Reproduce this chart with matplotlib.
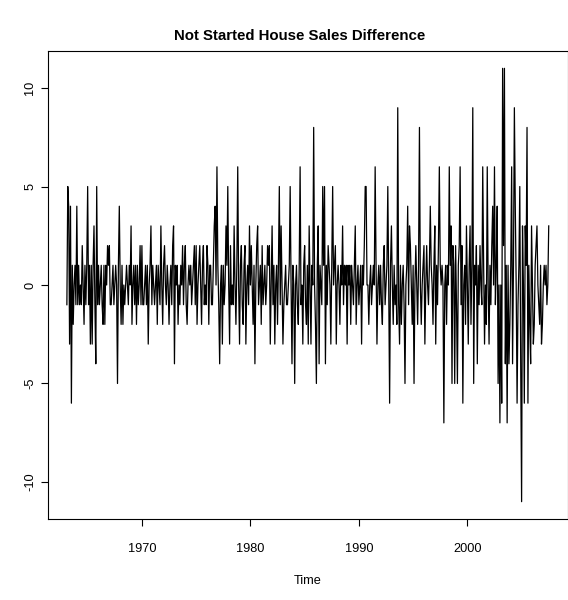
import numpy as np
import matplotlib
matplotlib.use("Agg")
import matplotlib.pyplot as plt

# monthly differences, starting Feb 1963
start_year = 1963
start_month = 2
diff_values = [
    -1, 5, 4, -3, 4, -6, 1, -2, 0, 1, -1, 4,
    -1, 1, -1, 0, -1, 2, 0, -2, 1, -1, 1, 5,
    -1, 1, -3, 1, -3, 1, 3, -1, -4, 5, -1,
    1, -1, 0, 1, -1, -2, 1, -2, 1, 0, 2, 1,
    2, -1, -1, 0, 1, -1, 0, 1, 0, -5, 1, 4,
    0, -2, 1, -2, 0, -1, 0, 1, 0, -1, 1, 0,
    3, -2, 0, 1, -1, 1, -2, 1, -1, 0, 2, -1,
    2, -1, -1, 0, 1, -1, 1, -3, 0, 1, 3,
    -1, 1, 0, -1, 0, 1, -2, 1, 0, -1, 3, 0,
    -2, 1, 2, 0, -1, 1, 0, -2, 0, 1, -1, 2,
    3, -4, 1, 0, 1, -2, 0, -1, 1, 0, 2, -1,
    1, 2, -1, -2, 0, 1, 0, 1, -1, 0, 1, 2,
    -1, 2, -2, 0, 1, 2, 0, -2, 1, 2, -1, 0,
    -1, 2, 1, -2, 1, 1, -1, -1, 1, 3, 4,
    0, 6, 1, -1, -4, 0, 1, -3, 1, -1, 0, 3,
    1, 5, 0, -3, 2, -1, 0, -1, 3, 0, -2, 1,
    6, 0, -3, 1, 2, -1, -2, 1, 2, -3, 0, 1,
    -1, 3, 0, 2, 0, -2, 1, -4, 0, 2, 3, -1,
    0, 1, -2, 2, -1, 0, 1, -1, 0, 2, 1,
    2, -3, 0, 3, -1, 1, -3, 0, 1, -2, 1, 5,
    -1, 3, 0, -3, -1, 0, 1, -1, -1, 0, 1, 5,
    0, -4, 1, 0, -5, 0, 1, -1, -2, 1, 6, -1,
    0, -3, 1, 2, -1, -2, 1, -3, 3, 0, -3, 1,
    0, 8, 0, -2, -5, 1, 3, -4, 1, 0, -1, 5,
    1, 5, -4, 1, -1, 2, 1, 0, -3, 1, 5,
    0, 1, 2, -3, 0, 1, 0, -2, 1, 0, 3, -1,
    1, 0, 1, -3, 1, 0, 1, -2, 1, 0, -1, 1,
    3, -2, 0, 1, -1, 0, 1, -3, 1, 0, 2, 5,
    5, 0, 0, -2, 0, 1, -1, 0, 1, 0, 6, 1,
    -3, 0, 1, -1, 1, -1, -2, 1, 2, -1, 0,
    1, 5, 0, -6, 1, 3, 0, -2, 1, -1, 0, -2,
    9, -1, -3, 1, -2, 0, 1, -1, -5, 0, 1, 4,
    -1, 3, 2, 0, -2, 1, -5, 0, 2, 0, -2, 1,
    8, 0, -2, 0, 1, 2, -3, 0, 2, 0, -1, 1,
    4, 1, 0, -2, 1, 3, -3, 1, -1, 2, 6,
    1, 0, 1, 0, -7, 0, 1, -2, 1, 0, 6, 1,
    3, -5, 2, 1, -5, 2, -1, -5, 1, 2, 6, -1,
    2, -6, 0, 1, -2, 3, 0, -3, 1, 3, -2, 1,
    9, -5, 1, 0, 2, -4, 1, -1, 2, 0, -1,
    6, 1, -3, 0, -2, 6, 0, -3, 1, -1, 2, 4,
    0, 6, -1, 1, 4, -5, 0, -7, 0, -6, 11, 2,
    11, -4, 1, -7, 1, -4, -2, 1, 6, -4, 1, 9,
    4, 0, -6, -1, 1, 5, -4, -11, 3, 0, -6, 3,
    1, 8, -6, 1, -2, -4, 3, 0, -3, -2, 1, 2,
    3, 0, -1, -2, 1, -3, -2, 0, 1, 0, 1, -1,
    0, 3,
]
x_ticks = [1970, 1980, 1990, 2000]
y_ticks = [-10, -5, 0, 5, 10]

vals = np.array(diff_values, dtype=float)
t = start_year + (start_month - 1 + np.arange(len(vals))) / 12.0

plt.rcParams['font.family'] = ['Liberation Sans', 'DejaVu Sans']

W, H = 568, 600
fig = plt.figure(figsize=(W / 100, H / 100), dpi=100)
left, right, top, bottom = 47.6, 568, 51, 519
ax = fig.add_axes([left / W, 1 - bottom / H, (right - left) / W, (bottom - top) / H])

ax.plot(t, vals, color='black', linewidth=0.9)

# R style 4% padding
xr = t[-1] - t[0]
yr = vals.max() - vals.min()
ax.set_xlim(t[0] - 0.04 * xr, t[-1] + 0.04 * xr)
ax.set_ylim(vals.min() - 0.04 * yr, vals.max() + 0.04 * yr)

ax.set_xticks(x_ticks)
ax.set_yticks(y_ticks)
ax.set_yticklabels([str(v) for v in y_ticks], rotation=90, va='center')
ax.tick_params(direction='out', length=5, width=0.8, labelsize=9.2, colors='black')
ax.tick_params(axis='x', pad=12)
ax.tick_params(axis='y', pad=3)
for s in ax.spines.values():
    s.set_linewidth(0.8)

ax.set_xlabel('Time', fontsize=9.2, labelpad=15)
fig.text(300 / W, 1 - 36 / H, 'Not Started House Sales Difference',
         ha='center', va='center', fontsize=10.8, fontweight='bold')

fig.savefig('out.png', dpi=100)
